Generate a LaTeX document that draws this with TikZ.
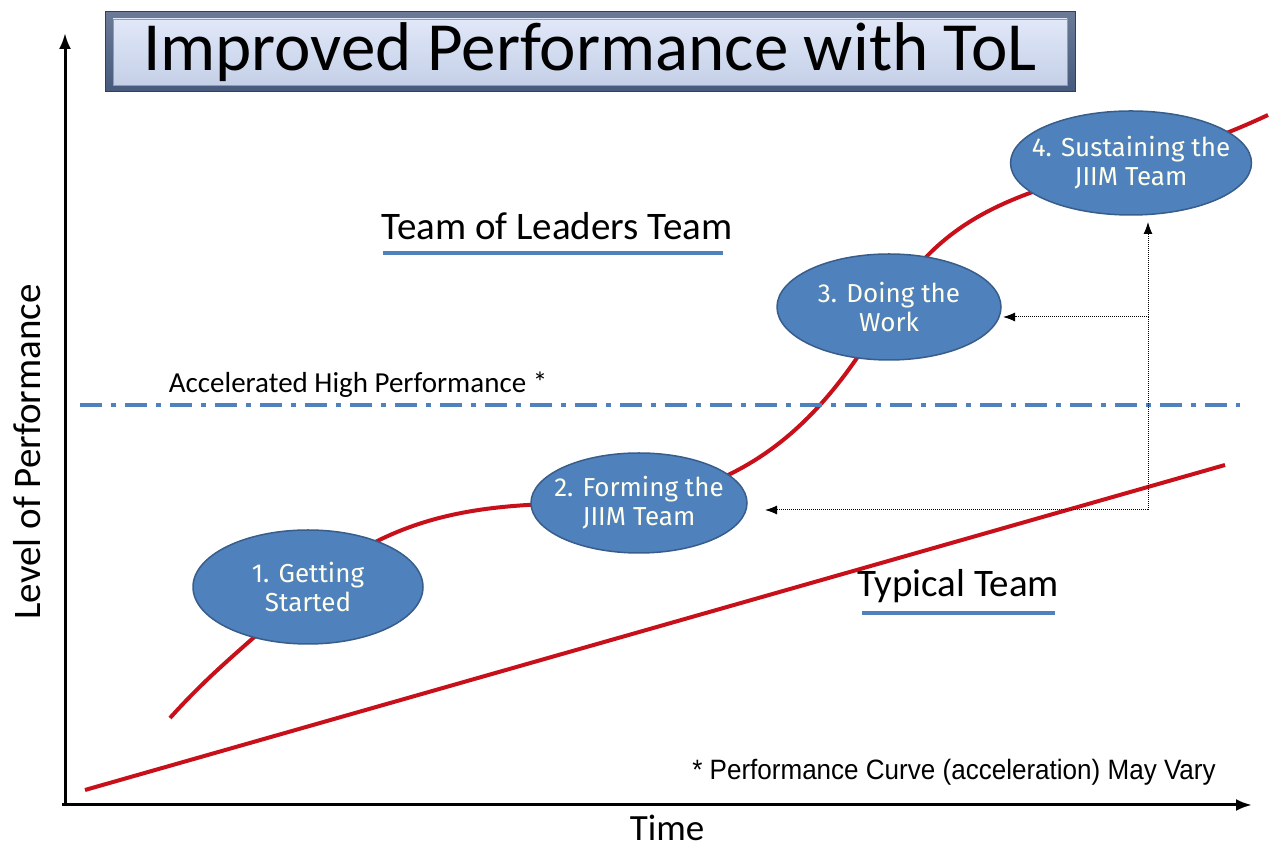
\documentclass[tikz,border=0pt]{standalone}
\usepackage{fontspec}
\setmainfont{Carlito}
\newfontfamily\stepfont{Fira Sans}
\newfontfamily\notefont{Liberation Sans}
\usetikzlibrary{shapes.geometric,backgrounds,arrows.meta}
\definecolor{stageblue}{RGB}{79,129,189}
\definecolor{stageedge}{RGB}{56,93,138}
\definecolor{curvered}{RGB}{200,16,26}
\definecolor{lineblue}{RGB}{79,129,189}
\definecolor{boxdark}{RGB}{70,90,125}
\definecolor{boxlight}{RGB}{214,224,246}
\tikzset{
  stage/.style={ellipse, fill=stageblue, draw=stageedge, line width=1.5pt, align=center,
    text=white!92!yellow, font=\stepfont\fontsize{26}{29}\selectfont, inner sep=-14pt},
  perf/.style={draw=curvered, line width=4pt},
  feed/.style={densely dotted, line width=1pt, -{Latex[length=12pt,width=9pt]}},
  underl/.style={draw=lineblue, line width=4pt}
}
\begin{document}
\begin{tikzpicture}[x=1pt,y=1pt]
\useasboundingbox (0,0) rectangle (1283,848);

\draw[line width=3pt, -{Latex[length=16pt,width=12pt]}] (65,43) -- (65,815);
\draw[line width=3pt, -{Latex[length=16pt,width=12pt]}] (62,43) -- (1252,43);
\node[rotate=90, font=\fontsize{39}{42}\selectfont] (ylab) at (27,396) {Level of Performance};
\node[font=\fontsize{37}{40}\selectfont, inner sep=1pt] (xlab) at (667,20) {Time};

% title box
\shade[top color=boxdark!80, bottom color=boxdark, draw=boxdark!70!black, line width=1pt]
  (105,756) rectangle (1075,836);
\shade[top color=boxlight!75!white, bottom color=boxlight!88!boxdark, draw=boxdark!60]
  (113,763) rectangle (1067,829);
\node[font=\fontsize{69}{72}\selectfont] (title) at (590,796) {Improved Performance with ToL};

\node[font=\fontsize{39}{42}\selectfont] (tol) at (557,622) {Team of Leaders Team};
\draw[underl] (383,595) -- (723,595);
\node[font=\fontsize{39}{42}\selectfont] (typ) at (958,262) {Typical Team};
\draw[underl] (862,235) -- (1055,235);

\node[font=\fontsize{29}{32}\selectfont] (acc) at (358,463) {Accelerated High Performance *};
\draw[draw=lineblue, line width=4pt, dash pattern=on 22pt off 9pt on 5pt off 9pt] (80,443) -- (1240,443);

\node[font=\notefont\fontsize{28}{31}\selectfont, xscale=0.93] (note) at (954,76)
  {* Performance Curve (acceleration) May Vary};

\draw[perf] (85,58) -- (1225,383);

\node[stage, minimum width=230pt, minimum height=114pt] (s1) at (308,261) {1. Getting\\Started};
\node[stage, minimum width=216pt, minimum height=100pt] (s2) at (639,345) {2. Forming the\\JIIM Team};
\node[stage, minimum width=224pt, minimum height=106pt] (s3) at (889,541) {3. Doing the\\Work};
\node[stage, minimum width=224pt, minimum height=104pt] (s4) at (1131,685) {4. Sustaining the\\JIIM Team};

\coordinate (c0) at (170,130);
\coordinate (c5) at (1268,733);
\begin{pgfonlayer}{background}
\draw[perf] (c0) to[out=48,in=225] (s1.center) to[out=40,in=180] (s2.center)
  to[out=10,in=240] (s3.center) to[out=60,in=195] (s4.center) to[out=15,in=205] (c5);
\end{pgfonlayer}

\coordinate (hub) at (1148,338);
\draw[feed] (hub) -- (765,338);
\draw[feed] (hub) -- (1148,531) -- (1003,531);
\draw[feed] (1148,531) -- (1148,626);
\end{tikzpicture}
\end{document}
